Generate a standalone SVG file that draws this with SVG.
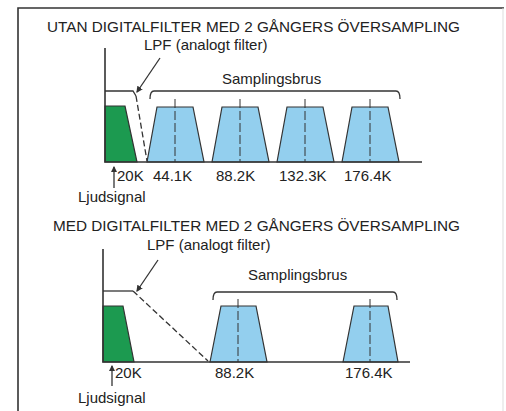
<svg xmlns="http://www.w3.org/2000/svg" width="506" height="411" viewBox="0 0 506 411">
<defs>
<style>
text{font-family:"Liberation Sans",Arial,sans-serif;fill:#222;}
.t{font-size:15px;}
.l{font-size:15px;}
.ax{stroke:#333;stroke-width:1.6;fill:none;}
.ln{stroke:#333;stroke-width:1.3;fill:none;}
.ds{stroke:#333;stroke-width:1.3;fill:none;stroke-dasharray:6,3;}
.cd{stroke:#333;stroke-width:1;fill:none;stroke-dasharray:9,3;}
.g{fill:#1c9a50;stroke:#333;stroke-width:1.2;}
.b{fill:#93cfee;stroke:#333;stroke-width:1.2;}
</style>
<marker id="ah" viewBox="0 0 6 6" refX="5" refY="3" markerWidth="5" markerHeight="5" orient="auto">
<path d="M0,0 L6,3 L0,6 Z" fill="#333"/>
</marker>
</defs>
<rect width="506" height="411" fill="#fff"/>
<g id="frame">
<path d="M18,411 V8 H504" class="ax" stroke-width="1.8"/>
<line x1="503" y1="8" x2="503" y2="411" stroke="#ddd" stroke-width="1"/>
</g>

<g id="top-diagram">
<text id="top-title" class="t" x="47" y="32" textLength="413" lengthAdjust="spacingAndGlyphs">UTAN DIGITALFILTER MED 2 GÅNGERS ÖVERSAMPLING</text>
<g id="top-lpf-label"><text class="l" x="144" y="50">LPF (analogt filter)</text></g>
<g id="top-noise-label"><text class="l" x="222" y="84">Samplingsbrus</text></g>
<g id="top-signal">
<path class="g" d="M105,162 V106 H125 L137,162 Z"/>
</g>
<g id="top-noise">
<path class="b" d="M147,162 L157,107 H193 L204,162 Z"/>
<path class="b" d="M212,162 L222,107 H258 L269,162 Z"/>
<path class="b" d="M277,162 L287,107 H323 L334,162 Z"/>
<path class="b" d="M342,162 L352,107 H388 L399,162 Z"/>
<path class="cd" d="M175,99 V162 M240,99 V162 M305,99 V162 M370,99 V162"/>
</g>
<g id="top-lpf">
<path class="ln" d="M105,91 H133 L136,96"/>
<path class="ds" d="M136,96 L147,161"/>
</g>
<path id="top-bracket" class="ln" d="M150,99 Q150,91 154,91 H396 Q400,91 400,99"/>
<path id="top-axes" class="ax" d="M105,48 V162 H422"/>
<g id="top-ticks">
<text class="l" x="117" y="181">20K</text>
<text class="l" x="153" y="181">44.1K</text>
<text class="l" x="216" y="181">88.2K</text>
<text class="l" x="279" y="181">132.3K</text>
<text class="l" x="344" y="181">176.4K</text>
<text class="l" x="78" y="202">Ljudsignal</text>
</g>
</g>

<g id="bottom-diagram">
<text id="bottom-title" class="t" x="53" y="231" textLength="407" lengthAdjust="spacingAndGlyphs">MED DIGITALFILTER MED 2 GÅNGERS ÖVERSAMPLING</text>
<g id="bottom-lpf-label"><text class="l" x="147" y="250">LPF (analogt filter)</text></g>
<g id="bottom-noise-label"><text class="l" x="248" y="280">Samplingsbrus</text></g>
<g id="bottom-signal">
<path class="g" d="M103,362 V306 H123 L134,362 Z"/>
</g>
<g id="bottom-noise">
<path class="b" d="M210,362 L221,306 H256 L267,362 Z"/>
<path class="b" d="M343,362 L354,306 H388 L398,362 Z"/>
<path class="cd" d="M238,299 V362 M370,299 V362"/>
</g>
<g id="bottom-lpf">
<path class="ln" d="M103,291 H133"/>
<path class="ds" d="M133,291 L208,361"/>
</g>
<path id="bottom-bracket" class="ln" d="M213,300 Q213,292 217,292 H393 Q397,292 397,300"/>
<path id="bottom-axes" class="ax" d="M103,249 V362 H410"/>
<g id="bottom-ticks">
<text class="l" x="115" y="378">20K</text>
<text class="l" x="215" y="378">88.2K</text>
<text class="l" x="345" y="378">176.4K</text>
<text class="l" x="78" y="403">Ljudsignal</text>
</g>
</g>

<g id="connectors">
<line class="ln" x1="114" y1="188" x2="114" y2="167" stroke-width="1.2" marker-end="url(#ah)"/>
<line class="ln" x1="160" y1="58" x2="137" y2="92" stroke-width="1" marker-end="url(#ah)"/>
<line class="ln" x1="112" y1="386" x2="112" y2="366" stroke-width="1.2" marker-end="url(#ah)"/>
<line class="ln" x1="158" y1="260" x2="137" y2="291" stroke-width="1" marker-end="url(#ah)"/>
</g>
</svg>
